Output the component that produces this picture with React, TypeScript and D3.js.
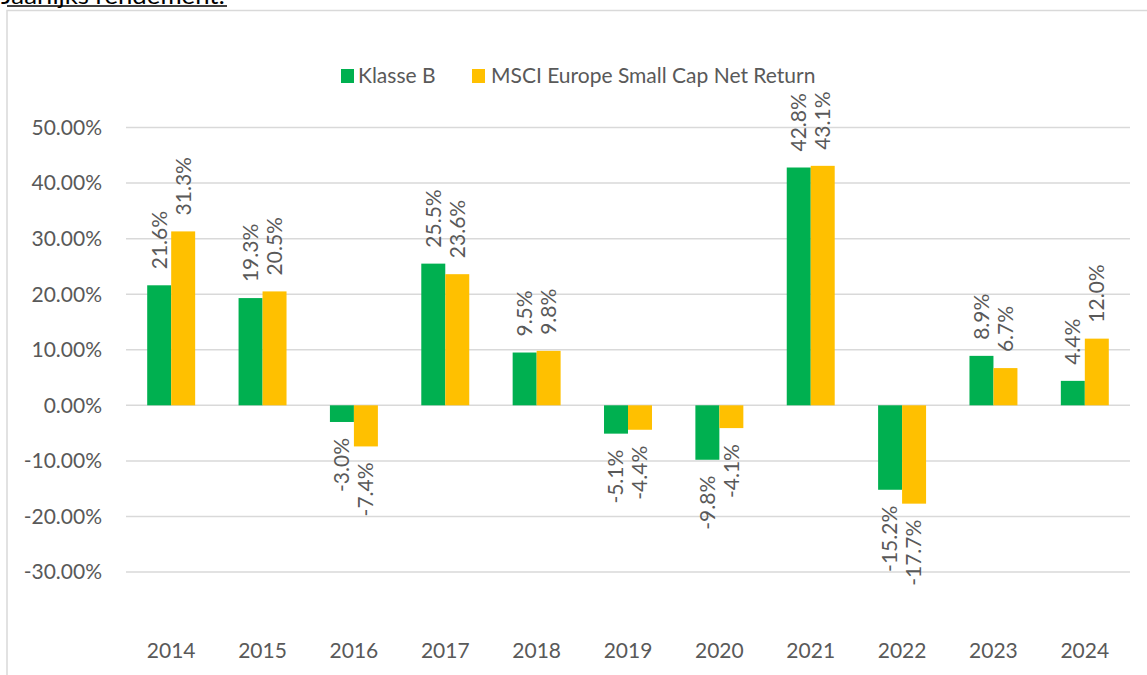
import React from "react";
import * as d3 from "d3";

const years = ["2014", "2015", "2016", "2017", "2018", "2019", "2020", "2021", "2022", "2023", "2024"];
const klasseB = [21.6, 19.3, -3.0, 25.5, 9.5, -5.1, -9.8, 42.8, -15.2, 8.9, 4.4];
const msci = [31.3, 20.5, -7.4, 23.6, 9.8, -4.4, -4.1, 43.1, -17.7, 6.7, 12.0];
const seriesNames = ["Klasse B", "MSCI Europe Small Cap Net Return"];
const seriesColors = ["#00B050", "#FFC000"];
const yTicks = [-30, -20, -10, 0, 10, 20, 30, 40, 50];
const title = "Jaarlijks rendement:";

const W = 1147;
const H = 675;
const FONT = "Lato, 'Open Sans', sans-serif";
const GRAY = "#595959";

const hy = (s: string) => s.replace(/\u2212/g, "-");

export default function App() {
  const x0 = d3.scaleBand<string>().domain(years).range([125.5, 1130.5]).paddingInner(0.475).paddingOuter(0.2375);
  const x1 = d3.scaleBand<string>().domain(seriesNames).range([0, x0.bandwidth()]);
  const y = d3.scaleLinear().domain([-30, 50]).range([572, 127.5]);
  const fmt = d3.format(".2f");
  const lab = d3.format(".1f");
  const data = [klasseB, msci];

  return (
    <svg width={W} height={H} style={{ position: "absolute", left: 0, top: 0, background: "#fff" }} fontFamily={FONT}>
      <rect x={0} y={0} width={W} height={H} fill="#fff" />
      <text x={1} y={4} fontSize={24} fill="#000" textLength={224} lengthAdjust="spacingAndGlyphs">{title}</text>
      <line x1={7} x2={227} y1={6} y2={6} stroke="#000" strokeWidth={1.5} />
      <rect x={7} y={10.5} width={W + 20} height={H + 20} fill="none" stroke="#d9d9d9" strokeWidth={1.5} />

      {yTicks.map((t) => (
        <g key={t}>
          <line x1={126} x2={1130} y1={y(t)} y2={y(t)} stroke="#d9d9d9" strokeWidth={1.5} />
          <text x={102} y={y(t)} dy="0.35em" textAnchor="end" fontSize={21} fill={GRAY}>
            {hy(fmt(t))}%
          </text>
        </g>
      ))}

      {data.map((vals, si) =>
        vals.map((v, i) => {
          const bx = (x0(years[i]) as number) + (x1(seriesNames[si]) as number);
          const bw = x1.bandwidth();
          const top = Math.min(y(v), y(0));
          const h = Math.abs(y(v) - y(0));
          const cx = bx + bw / 2;
          const ly = v >= 0 ? y(v) - 16 : y(v) + 16;
          return (
            <g key={`${si}-${i}`}>
              <rect x={bx} y={top} width={bw} height={h} fill={seriesColors[si]} />
              <text
                transform={`translate(${cx},${ly}) rotate(-90)`}
                dy="0.35em"
                textAnchor={v >= 0 ? "start" : "end"}
                fontSize={21}
                fill={GRAY}
              >
                {hy(lab(v))}%
              </text>
            </g>
          );
        })
      )}

      {years.map((yr) => (
        <text key={yr} x={(x0(yr) as number) + x0.bandwidth() / 2} y={658} textAnchor="middle" fontSize={21} fill={GRAY}>
          {yr}
        </text>
      ))}

      <g>
        <rect x={341} y={69} width={13} height={14} fill={seriesColors[0]} />
        <text x={358} y={83} fontSize={21} fill={GRAY}>{seriesNames[0]}</text>
        <rect x={472} y={69} width={13} height={14} fill={seriesColors[1]} />
        <text x={491} y={83} fontSize={21} fill={GRAY}>{seriesNames[1]}</text>
      </g>
    </svg>
  );
}
